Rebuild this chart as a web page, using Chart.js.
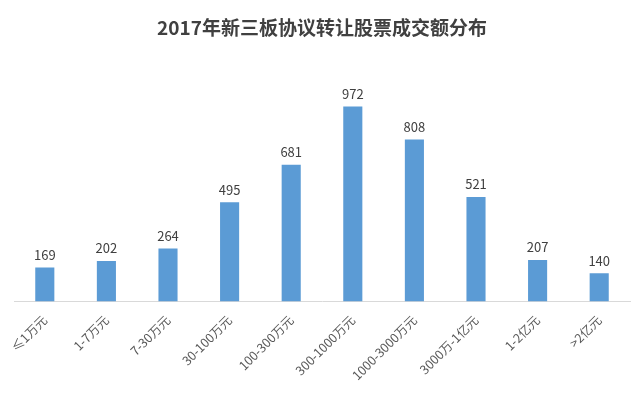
<!DOCTYPE html>
<html lang="zh">
  <head>
    <meta charset="UTF-8" />
    <title>2017年新三板协议转让股票成交额分布</title>
    <script src="https://cdn.jsdelivr.net/npm/chart.js@4"></script>
    <style>
      html, body { margin: 0; padding: 0; background: #fff; }
      #box { width: 640px; height: 400px; }
    </style>
  </head>
  <body>
    <div id="box"><canvas id="myChart"></canvas></div>

    <script>
      // 成交额区间
      const kategorien = ['≤1万元', '1-7万元', '7-30万元', '30-100万元', '100-300万元',
        '300-1000万元', '1000-3000万元', '3000万-1亿元', '1-2亿元', '>2亿元'];
      // 股票数量
      const werte = [169, 202, 264, 495, 681, 972, 808, 521, 207, 140];

      const schrift = '"Noto Sans CJK SC", "Noto Sans", sans-serif';

      // Zahlen über den Balken
      const wertLabels = {
        id: 'wertLabels',
        afterDatasetsDraw(chart) {
          const ctx = chart.ctx;
          const meta = chart.getDatasetMeta(0);
          ctx.save();
          ctx.font = '13px ' + schrift;
          ctx.fillStyle = '#404040';
          ctx.textAlign = 'center';
          ctx.textBaseline = 'bottom';
          meta.data.forEach((bar, i) => {
            ctx.fillText(werte[i], bar.x, bar.y - 6);
          });
          ctx.restore();
        }
      };

      const ctx = document.getElementById('myChart').getContext('2d');
      const myChart = new Chart(ctx, {
        type: 'bar',
        data: {
          labels: kategorien,
          datasets: [{
            data: werte,
            backgroundColor: '#5B9BD5',
            barPercentage: 0.31,
            categoryPercentage: 1
          }]
        },
        options: {
          responsive: true,
          maintainAspectRatio: false,
          animation: false,
          layout: { padding: { left: 14, right: 10, top: 0, bottom: 14 } },
          plugins: {
            legend: { display: false },
            tooltip: { enabled: false },
            title: {
              display: true,
              text: '2017年新三板协议转让股票成交额分布',
              color: '#404040',
              font: { family: schrift, size: 19, weight: 'bold' },
              padding: { top: 16, bottom: 22 }
            }
          },
          scales: {
            x: {
              grid: { display: false },
              border: { display: true, color: '#d9d9d9' },
              ticks: {
                color: '#595959',
                font: { family: schrift, size: 12.5 },
                minRotation: 45,
                maxRotation: 45,
                autoSkip: false
              }
            },
            y: {
              display: false,
              min: 0,
              max: 1200
            }
          }
        },
        plugins: [wertLabels]
      });
    </script>
  </body>
</html>
